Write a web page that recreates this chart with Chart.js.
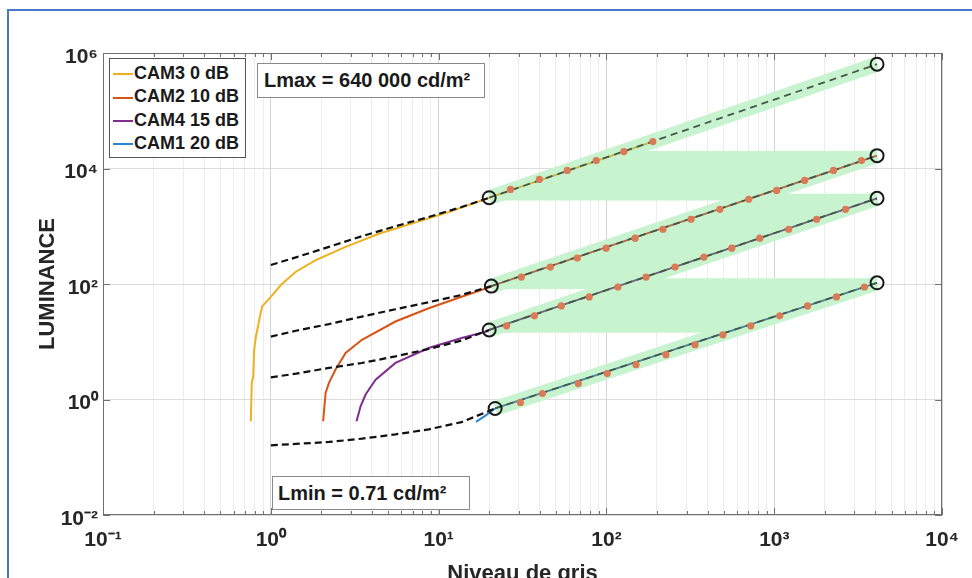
<!DOCTYPE html>
<html>
<head>
<meta charset="utf-8">
<title>Luminance</title>
<script src="https://cdn.jsdelivr.net/npm/chart.js"></script>
<style>
  html, body { margin: 0; padding: 0; background: #fff; width: 972px; height: 578px; overflow: hidden; }
  #frame { position: absolute; left: 7px; top: 9px; width: 1000px; height: 700px; border: 2px solid #4a78c8; }
  #wrap { position: absolute; left: 0; top: 0; width: 972px; height: 600px; }
  .box { position: absolute; box-sizing: border-box; background: #fff; border: 1px solid #8a8a8a;
         font-family: "Liberation Sans", Arial, sans-serif; font-weight: bold; color: #1a1a1a; white-space: nowrap; }
  #legend { left: 109px; top: 58px; width: 137px; height: 100px; border-color: #555; font-size: 18px; padding-top: 3px; }
  #legend div { height: 23.3px; line-height: 23px; }
  #legend span { display: inline-block; width: 20px; height: 0; border-top: 2px solid; vertical-align: middle; margin: 0 1px 0 3px; }
  #lmax { left: 257px; top: 63px; width: 228px; height: 35px; font-size: 20px; line-height: 33px; padding-left: 6px; }
  #lmin { left: 272px; top: 476px; width: 198px; height: 34px; font-size: 20px; line-height: 32px; padding-left: 5px; }
</style>
</head>
<body>
<div id="frame"></div>
<div id="wrap"><canvas id="chart" width="972" height="600"></canvas></div>
<div id="legend" class="box"></div>
<div id="lmax" class="box">Lmax = 640 000 cd/m²</div>
<div id="lmin" class="box">Lmin = 0.71 cd/m²</div>
<script>
// cameras, in legend order
const camNames = ['CAM3 0 dB', 'CAM2 10 dB', 'CAM4 15 dB', 'CAM1 20 dB'];

// measured response curves, low grey levels (grey level, luminance)
const cam3G = [0.76, 0.77, 0.785, 0.796, 0.815, 0.86, 0.888, 1.0, 1.147, 1.41, 1.85, 2.79, 4.4, 6.9, 11, 20];
const cam3L = [0.42, 1.96, 2.52, 7.3, 12.3, 27, 41, 60, 96, 163, 259, 440, 740, 1110, 1690, 3120];
const cam2G = [2.05, 2.12, 2.22, 2.43, 2.79, 3.49, 5.53, 8.72, 13.7, 20.6];
const cam2L = [0.42, 1.3, 1.94, 3.3, 6.4, 10.8, 22.4, 38, 60, 90];
const cam4G = [3.24, 3.43, 3.67, 4.21, 5.53, 8.72, 13.7, 19.4, 20];
const cam4L = [0.42, 0.77, 1.22, 2.2, 4.3, 7.8, 11.6, 15.1, 16];
const cam1G = [16.7, 18.9, 21.7];
const cam1L = [0.41, 0.52, 0.7];

// fitted model below grey level 20 (dashed black)
const fitG = [1, 1.41, 2.22, 3.49, 5.53, 8.72, 13.7];
const fit3L = [213, 289, 440, 672, 1000, 1445, 2153];
const fit2L = [12.3, 15.5, 20.2, 27.3, 36.6, 48.3, 64.6];
const fit4L = [2.42, 2.8, 3.52, 4.29, 5.58, 7.48, 10.5];
const fit1L = [0.161, 0.17, 0.184, 0.21, 0.249, 0.304, 0.406];

// ends of the linear part (open circles)
const startG = [20, 20.6, 20, 21.7];
const startL = [3120, 92, 16, 0.70];
const endG = [4095, 4095, 4095, 4095];
const endL = [640000, 16700, 3050, 105];

// sampled points on the linear part (orange dots)
const dot3G = [26.8, 39.8, 58.4, 86.9, 127, 189];
const dot3L = [4345, 6457, 9247, 13740, 19630, 29220];
const dot2G = [31.1, 46.3, 67, 99.6, 148, 217, 319, 474, 704, 1033, 1516, 2254, 3306];
const dot2L = [132, 196, 281, 418, 621, 887, 1321, 1963, 2923, 4178, 6209, 9247, 13740];
const dot4G = [25.4, 37.2, 53.8, 78.9, 117, 172, 256, 381, 558, 819, 1218, 1786, 2656];
const dot4L = [18.9, 28.1, 41.8, 59.7, 88.8, 132, 196, 292, 418, 621, 887, 1321, 1963];
const dot1G = [30.7, 41.5, 67.9, 101, 150, 226, 337, 494, 724, 1077, 1579, 2349, 3444];
const dot1L = [0.887, 1.27, 1.89, 2.81, 4.01, 5.97, 8.87, 13.2, 18.9, 28.1, 41.8, 59.7, 88.8];

// axes
const xMajor = [0.1, 1, 10, 100, 1000, 10000];
const xTickLabels = ['10⁻¹', '10⁰', '10¹', '10²', '10³', '10⁴'];
const yMajor = [0.01, 1, 100, 10000, 1000000];
const yTickLabels = ['10⁻²', '10⁰', '10²', '10⁴', '10⁶'];

// styles
const camColors = ['#EDB120', '#D95319', '#7E2F8E', '#2B86CF'];
const tintColors = ['#c6b848', '#b36a48', '#6c6578', '#4a8296'];
const bandColor = '#c8f3cf';
const FONT = '"Liberation Sans", Arial, sans-serif';

const pts = (xs, ys) => xs.map((x, i) => ({ x: x, y: ys[i] }));

const measured = [pts(cam3G, cam3L), pts(cam2G, cam2L), pts(cam4G, cam4L), pts(cam1G, cam1L)];
const fits = [fit3L, fit2L, fit4L, fit1L];
const dots = [pts(dot3G, dot3L), pts(dot2G, dot2L), pts(dot4G, dot4L), pts(dot1G, dot1L)];

// grey level where the straight (log-log) part of camera i reaches luminance L
function greyAt(i, L) {
    const lx0 = Math.log10(startG[i]), lx1 = Math.log10(endG[i]);
    const ly0 = Math.log10(startL[i]), ly1 = Math.log10(endL[i]);
    const t = (Math.log10(L) - ly0) / (ly1 - ly0);
    return Math.pow(10, lx0 + t * (lx1 - lx0));
}

const datasets = [];

// green zones linking one camera's range to the next
for (let i = 0; i < 3; i++) {
    const j = i + 1;
    const yTop = endL[j] * 1.2;
    const yBot = startL[i] / 1.12;
    datasets.push({
        data: [
            { x: startG[i], y: yBot },
            { x: startG[i], y: startL[i] },
            { x: greyAt(i, yTop), y: yTop },
            { x: endG[j], y: yTop },
            { x: endG[j], y: endL[j] },
            { x: greyAt(j, yBot), y: yBot }
        ],
        fill: 'shape', backgroundColor: bandColor, borderWidth: 0, borderColor: 'rgba(0,0,0,0)',
        pointRadius: 0, order: 10
    });
}

for (let i = 0; i < 4; i++) {
    const s = { x: startG[i], y: startL[i] };
    const e = { x: endG[i], y: endL[i] };
    // band along the linear part
    datasets.push({ data: [s, e], borderColor: bandColor, borderWidth: 15, borderCapStyle: 'butt', pointRadius: 0, order: 9 });
    // measured curve continuing on the linear part
    const last = i === 0 ? dots[0][dots[0].length - 1] : e;
    datasets.push({ data: [s, last], borderColor: tintColors[i], borderWidth: 1.8, pointRadius: 0, order: 6 });
    // fitted line, linear part
    datasets.push({ data: [s, e], borderColor: '#44594a', borderWidth: 1.8, borderDash: [7, 5], pointRadius: 0, order: 5 });
    // measured curve, low grey levels
    datasets.push({ label: camNames[i], data: measured[i], borderColor: camColors[i], borderWidth: 2, pointRadius: 0, order: 4 });
    // fitted model below grey level 20
    datasets.push({ data: pts(fitG, fits[i]).concat([s]), borderColor: '#111', borderWidth: 2.2, borderDash: [7, 4], pointRadius: 0, order: 3 });
    // sampled points
    datasets.push({ data: dots[i], showLine: false, pointRadius: 3.6, pointBackgroundColor: '#d97b56', pointBorderWidth: 0, order: 2 });
    // end markers
    datasets.push({ data: [s, e], showLine: false, pointRadius: 6.5, pointBorderColor: '#1a1a1a', pointBorderWidth: 2,
                    pointBackgroundColor: 'rgba(0,0,0,0)', order: 1 });
}

// x grid at every 1..9 x 10^k
const xGrid = [];
xMajor.forEach((d, k) => {
    if (k === xMajor.length - 1) { xGrid.push(d); return; }
    for (let m = 1; m <= 9; m++) xGrid.push(d * m);
});
const majorIndex = (list, v) => list.findIndex(m => Math.abs(Math.log10(m) - Math.log10(v)) < 1e-6);

// axes box and inward tick marks, as MATLAB draws them
const axesBox = {
    id: 'axesBox',
    afterDatasetsDraw(chart) {
        const { ctx, chartArea: a, scales: { x, y } } = chart;
        ctx.save();
        ctx.strokeStyle = '#707070';
        ctx.lineWidth = 1;
        ctx.beginPath();
        x.ticks.forEach(t => {
            const px = Math.round(x.getPixelForValue(t.value)) + 0.5;
            const len = majorIndex(xMajor, t.value) >= 0 ? 7 : 4;
            ctx.moveTo(px, a.bottom); ctx.lineTo(px, a.bottom - len);
            ctx.moveTo(px, a.top); ctx.lineTo(px, a.top + len);
        });
        y.ticks.forEach(t => {
            const py = Math.round(y.getPixelForValue(t.value)) + 0.5;
            ctx.moveTo(a.left, py); ctx.lineTo(a.left + 7, py);
            ctx.moveTo(a.right, py); ctx.lineTo(a.right - 7, py);
        });
        ctx.stroke();
        ctx.strokeRect(Math.round(a.left) + 0.5, Math.round(a.top) + 0.5, Math.round(a.width) - 1, Math.round(a.height) - 1);
        ctx.restore();
    }
};

new Chart(document.getElementById('chart'), {
    type: 'line',
    data: { datasets: datasets },
    options: {
        responsive: false,
        devicePixelRatio: 1,
        animation: false,
        events: [],
        layout: { padding: { left: 0, right: 27, top: 53, bottom: 0 } },
        plugins: { legend: { display: false }, tooltip: { enabled: false } },
        scales: {
            x: {
                type: 'logarithmic', min: 0.1, max: 10000,
                afterBuildTicks: s => { s.ticks = xGrid.map(v => ({ value: v })); },
                afterFit: s => { s.height = 85; },
                grid: {
                    drawTicks: false,
                    color: c => majorIndex(xMajor, c.tick.value) >= 0 ? '#d4d4d4' : '#ededed'
                },
                border: { display: false },
                ticks: {
                    autoSkip: false, maxRotation: 0, padding: 13, color: '#262626',
                    font: { family: FONT, size: 21, weight: 'bold' },
                    callback: v => { const k = majorIndex(xMajor, v); return k >= 0 ? xTickLabels[k] : ''; }
                },
                title: {
                    display: true, text: 'Niveau de gris', color: '#262626',
                    font: { family: FONT, size: 22, weight: 'bold' }, padding: { top: 0, bottom: 13 }
                }
            },
            y: {
                type: 'logarithmic', min: 0.01, max: 1000000,
                afterBuildTicks: s => { s.ticks = yMajor.map(v => ({ value: v })); },
                afterFit: s => { s.width = 103; },
                grid: { drawTicks: false, color: '#dcdcdc' },
                border: { display: false },
                ticks: {
                    padding: 5, labelOffset: 4, color: '#262626',
                    font: { family: FONT, size: 21, weight: 'bold' },
                    callback: v => { const k = majorIndex(yMajor, v); return k >= 0 ? yTickLabels[k] : ''; }
                },
                title: {
                    display: true, text: 'LUMINANCE', color: '#262626',
                    font: { family: FONT, size: 22, weight: 'bold' }, padding: { top: 35, bottom: 0 }
                }
            }
        }
    },
    plugins: [axesBox]
});

// legend box inside the axes
const legend = document.getElementById('legend');
camNames.forEach((name, i) => {
    const row = document.createElement('div');
    const sw = document.createElement('span');
    sw.style.borderTopColor = camColors[i];
    row.appendChild(sw);
    row.appendChild(document.createTextNode(name));
    legend.appendChild(row);
});
</script>
</body>
</html>
